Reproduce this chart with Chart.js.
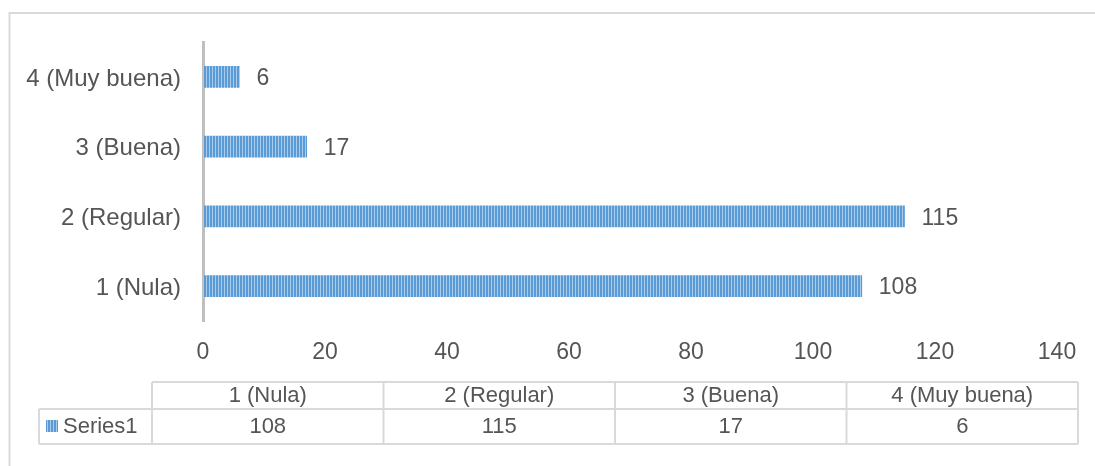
<!DOCTYPE html>
<html>
<head>
<meta charset="utf-8">
<script src="https://cdn.jsdelivr.net/npm/chart.js@4"></script>
<style>
  html, body { margin: 0; padding: 0; background: #fff; }
  #wrap { width: 1095px; height: 466px; }
</style>
</head>
<body>
<div id="wrap"><canvas id="chart" width="1095" height="466"></canvas></div>
<script>
// data
const categories = ["1 (Nula)", "2 (Regular)", "3 (Buena)", "4 (Muy buena)"];
const values = [108, 115, 17, 6];
const seriesName = "Series1";
const xTicks = [0, 20, 40, 60, 80, 100, 120, 140];

const textColor = "#555555";
const lineColor = "#D9D9D9";
const font = "Liberation Sans, Arial, sans-serif";

// striped fill like the excel pattern
function makePattern() {
    const c = document.createElement("canvas");
    c.width = 3;
    c.height = 4;
    const g = c.getContext("2d");
    g.fillStyle = "#5B9BD5";
    g.fillRect(0, 0, 3, 4);
    g.fillStyle = "#A9CCEC";
    g.fillRect(2, 0, 1, 4);
    return g.createPattern(c, "repeat");
}
const stripe = makePattern();

// value labels at bar ends
const valueLabels = {
    id: "valueLabels",
    afterDatasetsDraw(chart) {
        const ctx = chart.ctx;
        const meta = chart.getDatasetMeta(0);
        ctx.save();
        ctx.fillStyle = textColor;
        ctx.font = "23px " + font;
        ctx.textAlign = "left";
        ctx.textBaseline = "middle";
        meta.data.forEach((bar, i) => {
            ctx.fillText(values[i], bar.x + 17, bar.y + 2);
        });
        ctx.restore();
    }
};

// outer border + data table under the chart
const dataTable = {
    id: "dataTable",
    afterDraw(chart) {
        const ctx = chart.ctx;
        ctx.save();
        ctx.strokeStyle = lineColor;
        ctx.lineWidth = 2;
        ctx.strokeRect(9.5, 13, 1100, 470);

        const left = 152, right = 1078;
        const top = 382, mid = 409, bottom = 444;
        const colW = (right - left) / categories.length;

        ctx.beginPath();
        ctx.moveTo(left, top); ctx.lineTo(right, top);
        ctx.moveTo(39, mid); ctx.lineTo(right, mid);
        ctx.moveTo(39, bottom); ctx.lineTo(right, bottom);
        ctx.moveTo(39, mid); ctx.lineTo(39, bottom);
        for (let i = 0; i <= categories.length; i++) {
            const x = left + i * colW;
            ctx.moveTo(x, top); ctx.lineTo(x, bottom);
        }
        ctx.stroke();

        ctx.fillStyle = textColor;
        ctx.font = "22px " + font;
        ctx.textAlign = "center";
        ctx.textBaseline = "middle";
        categories.forEach((c, i) => {
            const cx = left + colW * (i + 0.5);
            ctx.fillText(c, cx, 396);
            ctx.fillText(values[i], cx, 427);
        });

        // legend key
        ctx.fillStyle = stripe;
        ctx.fillRect(46, 420, 12, 12);
        ctx.fillStyle = textColor;
        ctx.textAlign = "left";
        ctx.fillText(seriesName, 63, 427);
        ctx.restore();
    }
};

const chart = new Chart(document.getElementById("chart"), {
    type: "bar",
    data: {
        labels: categories,
        datasets: [{
            label: seriesName,
            data: values,
            backgroundColor: stripe,
            barThickness: 21
        }]
    },
    options: {
        indexAxis: "y",
        responsive: false,
        animation: false,
        devicePixelRatio: 1,
        layout: { padding: { left: 0, right: 38, top: 42, bottom: 95 } },
        plugins: {
            legend: { display: false },
            tooltip: { enabled: false }
        },
        scales: {
            y: {
                reverse: true,
                afterFit: (s) => { s.width = 203; },
                grid: { display: false, drawTicks: false },
                border: { display: true, color: "#BFBFBF", width: 3 },
                ticks: { color: textColor, padding: 22, labelOffset: 2, font: { size: 24, family: font } }
            },
            x: {
                min: 0,
                max: 140,
                afterFit: (s) => { s.height = 50; },
                afterBuildTicks: (s) => { s.ticks = xTicks.map(v => ({ value: v })); },
                grid: { display: false, drawTicks: false },
                border: { display: false },
                ticks: { color: textColor, padding: 18, font: { size: 23, family: font } }
            }
        }
    },
    plugins: [valueLabels, dataTable]
});
</script>
</body>
</html>
